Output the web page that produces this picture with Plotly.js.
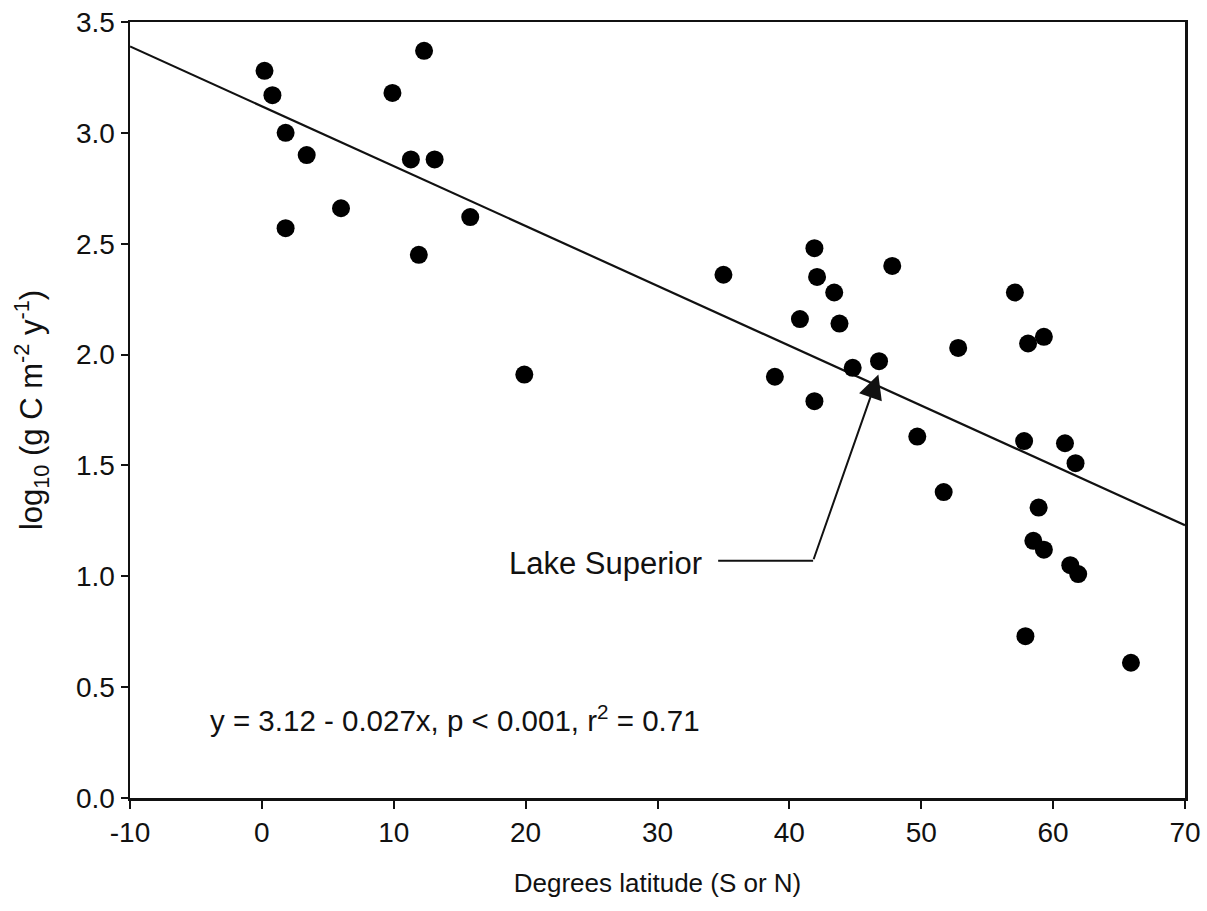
<!DOCTYPE html>
<html>
<head>
<meta charset="utf-8">
<script src="https://cdn.plot.ly/plotly-3.0.1.min.js"></script>
<style>html,body{margin:0;padding:0;background:#fff;}#chart{width:1207px;height:911px;}</style>
</head>
<body>
<div id="chart"></div>
<script>
// Degrees latitude (S or N)
const latitude = [0.2, 0.8, 1.8, 1.8, 3.4, 6.0, 9.9, 12.3, 11.3, 13.1, 11.9, 15.8, 19.9,
  35.0, 38.9, 40.8, 41.9, 42.1, 43.4, 43.8, 41.9, 44.8, 46.8, 47.8, 49.7, 51.7, 52.8,
  57.1, 58.1, 59.3, 57.8, 60.9, 61.7, 58.9, 58.5, 59.3, 61.3, 61.9, 57.9, 65.9];
// log10 primary production (g C m-2 y-1)
const logPP = [3.28, 3.17, 3.00, 2.57, 2.90, 2.66, 3.18, 3.37, 2.88, 2.88, 2.45, 2.62, 1.91,
  2.36, 1.90, 2.16, 2.48, 2.35, 2.28, 2.14, 1.79, 1.94, 1.97, 2.40, 1.63, 1.38, 2.03,
  2.28, 2.05, 2.08, 1.61, 1.60, 1.51, 1.31, 1.16, 1.12, 1.05, 1.01, 0.73, 0.61];
// Regression line end points (y = 3.12 - 0.027x)
const fitX = [-10, 70];
const fitY = [3.39, 1.23];
// Lake Superior pointer
const leaderX = [34.6, 41.8];
const leaderY = [1.07, 1.07];
const arrowTail = [41.8, 1.07];
const arrowTip = [46.75, 1.91];
const xTicks = [-10, 0, 10, 20, 30, 40, 50, 60, 70];
const yTicks = [0.0, 0.5, 1.0, 1.5, 2.0, 2.5, 3.0, 3.5];
const eqText = 'y = 3.12 - 0.027x, p < 0.001, r<sup>2</sup> = 0.71';

const font = 'Liberation Sans, Arial, sans-serif';

const traces = [
  {x: fitX, y: fitY, mode: 'lines', line: {color: '#111', width: 2.2}, hoverinfo: 'skip', showlegend: false},
  {x: leaderX, y: leaderY, mode: 'lines', line: {color: '#111', width: 2.2}, hoverinfo: 'skip', showlegend: false},
  {x: latitude, y: logPP, mode: 'markers', marker: {color: '#000', size: 18}, showlegend: false}
];

const layout = {
  width: 1207, height: 911,
  margin: {l: 130, r: 22, t: 22, b: 113},
  paper_bgcolor: '#fff', plot_bgcolor: '#fff',
  font: {family: font, color: '#111', size: 28},
  showlegend: false,
  xaxis: {
    range: [-10, 70], tickvals: xTicks, ticktext: xTicks.map(String),
    showgrid: false, zeroline: false, showline: true, linecolor: '#111', linewidth: 2.5, mirror: true,
    ticks: 'outside', ticklen: 8, tickwidth: 2, tickcolor: '#111',
    tickfont: {size: 28, family: font},
    title: {text: 'Degrees latitude (S or N)', font: {size: 26, family: font}, standoff: 27}
  },
  yaxis: {
    range: [0, 3.5], tickvals: yTicks, ticktext: yTicks.map(v => v.toFixed(1)),
    showgrid: false, zeroline: false, showline: true, linecolor: '#111', linewidth: 2.5, mirror: true,
    ticks: 'outside', ticklen: 7, tickwidth: 2, tickcolor: '#111',
    tickfont: {size: 28, family: font},
    title: {text: 'log<sub>10</sub> (g C m<sup>-2</sup> y<sup>-1</sup>)', font: {size: 31, family: font}, standoff: 24}
  },
  annotations: [
    {x: arrowTip[0], y: arrowTip[1], ax: arrowTail[0], ay: arrowTail[1], axref: 'x', ayref: 'y', xref: 'x', yref: 'y',
     text: '', showarrow: true, arrowhead: 2, arrowsize: 2.4, arrowwidth: 2, arrowcolor: '#111'},
    {x: leaderX[0], y: leaderY[0], xref: 'x', yref: 'y', xanchor: 'right', yanchor: 'middle', xshift: -14, yshift: -3,
     text: 'Lake Superior', showarrow: false, font: {size: 31, family: font, color: '#111'}},
    {x: -4.1, y: 0.36, xref: 'x', yref: 'y', xanchor: 'left', yanchor: 'middle',
     text: eqText, showarrow: false, font: {size: 29.5, family: font, color: '#111'}}
  ]
};

Plotly.newPlot('chart', traces, layout, {displayModeBar: false, staticPlot: true});
</script>
</body>
</html>
